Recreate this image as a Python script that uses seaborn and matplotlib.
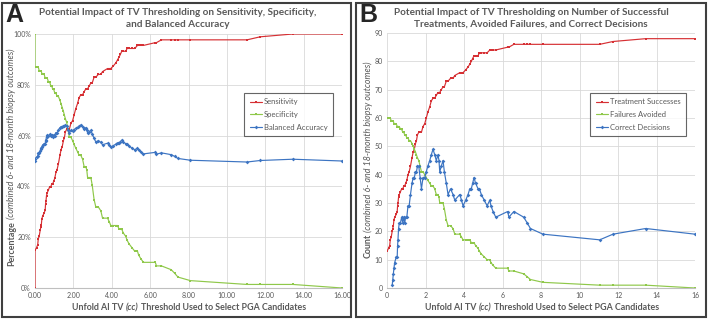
import matplotlib
matplotlib.use("Agg")
import matplotlib.pyplot as plt
import matplotlib.transforms as mtransforms
from matplotlib.patches import Rectangle
import seaborn as sns

# thresholds (cc) shared by both panels
thresholds = [0.00, 0.08, 0.14, 0.17, 0.22, 0.27, 0.30, 0.33, 0.36, 0.40,
              0.48, 0.53, 0.55, 0.57, 0.60, 0.64, 0.70, 0.76, 0.82, 0.87,
              0.92, 0.97, 1.03, 1.09, 1.15, 1.22, 1.30, 1.36, 1.42, 1.48,
              1.53, 1.58, 1.65, 1.72, 1.79, 1.87, 1.96, 2.04, 2.12, 2.22,
              2.30, 2.39, 2.48, 2.56, 2.65, 2.70, 2.74, 2.82, 2.91, 2.98,
              3.08, 3.17, 3.30, 3.43, 3.52, 3.78, 3.87, 3.95, 4.09, 4.21,
              4.30, 4.38, 4.45, 4.52, 4.60, 4.73, 4.80, 4.90, 5.05, 5.20,
              5.34, 5.40, 5.51, 5.65, 6.27, 6.33, 6.59, 7.10, 7.28, 7.45,
              8.10, 11.05, 11.74, 13.44, 16.00]

# panel B counts
successes = [13, 14, 15, 17, 18, 20, 21, 22, 24, 25,
             26, 27, 29, 30, 32, 33, 34, 35, 35, 36,
             36, 37, 38, 40, 41, 43, 46, 48, 49, 51,
             52, 54, 55, 55, 55, 57, 58, 60, 62, 64,
             66, 67, 67, 68, 69, 69, 69, 70, 71, 71,
             73, 73, 74, 74, 75, 76, 76, 76, 77, 78,
             79, 80, 81, 82, 82, 82, 83, 83, 83, 83,
             84, 84, 84, 84, 85, 85, 86, 86, 86, 86,
             86, 86, 87, 88, 88]
failures_avoided = [60, 60, 60, 60, 59, 59, 59, 59, 58, 58,
                    58, 57, 57, 57, 57, 57, 56, 56, 55, 55,
                    54, 54, 53, 53, 52, 52, 51, 50, 49, 48,
                    47, 46, 45, 43, 41, 41, 40, 39, 38, 37,
                    36, 36, 35, 33, 33, 32, 30, 30, 30, 28,
                    24, 22, 22, 21, 19, 19, 18, 17, 17, 17,
                    17, 16, 16, 16, 15, 14, 13, 12, 11, 10,
                    10, 9, 8, 7, 7, 6, 6, 5, 4, 3,
                    2, 1, 1, 1, 0]
decision_thresholds = thresholds[5:]
correct_decisions = [1, 3, 5, 7, 9,
                     11, 11, 15, 17, 21, 23, 23, 25, 23, 25,
                     23, 25, 25, 29, 29, 33, 37, 39, 39, 41,
                     41, 43, 43, 39, 35, 39, 39, 41, 43, 45,
                     47, 49, 47, 45, 47, 45, 41, 43, 45, 41,
                     37, 33, 35, 33, 31, 33, 31, 29, 31, 33,
                     35, 35, 37, 39, 37, 35, 35, 33, 31, 29,
                     31, 29, 27, 25, 27, 25, 27, 25, 23, 21,
                     19, 17, 19, 21, 19]

# panel A percentages (extra starting point at 0)
thresholds_a = [0.00] + thresholds
sensitivity = [0.0, 14.8, 15.9, 17.0, 19.3, 20.5, 22.7, 23.9, 25.0, 27.3, 28.4,
               29.5, 30.7, 33.0, 34.1, 36.4, 37.5, 38.6, 39.8, 39.8, 40.9,
               40.9, 42.0, 43.2, 45.5, 46.6, 48.9, 52.3, 54.5, 55.7, 58.0,
               59.1, 61.4, 62.5, 62.5, 62.5, 64.8, 65.9, 68.2, 70.5, 72.7,
               75.0, 76.1, 76.1, 77.3, 78.4, 78.4, 78.4, 79.5, 80.7, 80.7,
               83.0, 83.0, 84.1, 84.1, 85.2, 86.4, 86.4, 86.4, 87.5, 88.6,
               89.8, 90.9, 92.0, 93.2, 93.2, 93.2, 94.3, 94.3, 94.3, 94.3,
               95.5, 95.5, 95.5, 95.5, 96.6, 96.6, 97.7, 97.7, 97.7, 97.7,
               97.7, 97.7, 98.9, 100.0, 100.0]
specificity = [100.0, 87.0, 87.0, 87.0, 87.0, 85.5, 85.5, 85.5, 85.5, 84.1, 84.1,
               84.1, 82.6, 82.6, 82.6, 82.6, 82.6, 81.2, 81.2, 79.7, 79.7,
               78.3, 78.3, 76.8, 76.8, 75.4, 75.4, 73.9, 72.5, 71.0, 69.6,
               68.1, 66.7, 65.2, 62.3, 59.4, 59.4, 58.0, 56.5, 55.1, 53.6,
               52.2, 52.2, 50.7, 47.8, 47.8, 46.4, 43.5, 43.5, 43.5, 40.6,
               34.8, 31.9, 31.9, 30.4, 27.5, 27.5, 26.1, 24.6, 24.6, 24.6,
               24.6, 23.2, 23.2, 23.2, 21.7, 20.3, 18.8, 17.4, 15.9, 14.5,
               14.5, 13.0, 11.6, 10.1, 10.1, 8.7, 8.7, 7.2, 5.8, 4.3,
               2.9, 1.4, 1.4, 1.4, 0.0]
balanced_accuracy = [50.0, 50.9, 51.5, 52.0, 53.2, 53.0, 54.1, 54.7, 55.3, 55.7, 56.3,
                     56.8, 56.7, 57.8, 58.4, 59.5, 60.1, 59.9, 60.5, 59.8, 60.3,
                     59.6, 60.2, 60.0, 61.2, 61.0, 62.2, 63.1, 63.5, 63.4, 63.8,
                     63.6, 64.1, 63.9, 62.4, 61.0, 62.1, 62.0, 62.4, 62.8, 63.2,
                     63.6, 64.2, 63.4, 62.6, 63.1, 62.4, 61.0, 61.5, 62.1, 60.7,
                     58.9, 57.5, 58.0, 57.3, 56.4, 57.0, 56.3, 55.5, 56.1, 56.6,
                     57.2, 57.1, 57.6, 58.2, 57.5, 56.8, 56.6, 55.9, 55.1, 54.4,
                     55.0, 54.3, 53.6, 52.8, 53.4, 52.7, 53.2, 52.5, 51.8, 51.0,
                     50.3, 49.6, 50.2, 50.7, 50.0]

RED = "#D63034"
GREEN = "#8FC84A"
BLUE = "#3C74C2"
GRAY = "#595959"

sns.set_style("white")
plt.rcParams["font.family"] = ["Lato", "DejaVu Sans"]

fig = plt.figure(figsize=(7.09, 3.2), dpi=100)
ax_a = fig.add_axes([35 / 709, 32 / 320, 307 / 709, 254 / 320])
ax_b = fig.add_axes([387 / 709, 32 / 320, 308 / 709, 255 / 320])

line_kw = dict(estimator=None, sort=False, markersize=1.9, markeredgewidth=0, linewidth=0.85)

sns.lineplot(x=thresholds_a, y=sensitivity, ax=ax_a, color=RED, marker="s", label="Sensitivity", **line_kw)
sns.lineplot(x=thresholds_a, y=specificity, ax=ax_a, color=GREEN, marker="s", label="Specificity", **line_kw)
sns.lineplot(x=thresholds_a, y=balanced_accuracy, ax=ax_a, color=BLUE, marker="D", label="Balanced Accuracy", **line_kw)

sns.lineplot(x=thresholds, y=successes, ax=ax_b, color=RED, marker="s", label="Treatment Successes", **line_kw)
sns.lineplot(x=thresholds, y=failures_avoided, ax=ax_b, color=GREEN, marker="s", label="Failures Avoided", **line_kw)
sns.lineplot(x=decision_thresholds, y=correct_decisions, ax=ax_b, color=BLUE, marker="D", label="Correct Decisions", **line_kw)

ax_a.set_xlim(0, 16)
ax_a.set_ylim(0, 100)
ax_a.set_xticks(range(0, 17, 2), [f"{v:.2f}" for v in range(0, 17, 2)])
ax_a.set_yticks(range(0, 101, 20), [f"{v}%" for v in range(0, 101, 20)])
ax_b.set_xlim(0, 16)
ax_b.set_ylim(0, 90)
ax_b.set_xticks(range(0, 17, 2), [str(v) for v in range(0, 17, 2)])
ax_b.set_yticks(range(0, 91, 10), [str(v) for v in range(0, 91, 10)])

for ax, anchor in [(ax_a, (0.971, 0.768)), (ax_b, (0.971, 0.765))]:
    ax.set_xlabel("")
    ax.set_ylabel("")
    ax.tick_params(labelsize=5, colors=GRAY, length=0, pad=3)
    ax.grid(True, color="#d9d9d9", linewidth=0.6)
    ax.set_axisbelow(True)
    for s in ["top", "right", "left"]:
        ax.spines[s].set_visible(False)
    ax.spines["bottom"].set_color("#bfbfbf")
    ax.spines["bottom"].set_linewidth(0.8)
    leg = ax.legend(loc="upper right", bbox_to_anchor=anchor, fontsize=5.5, frameon=True,
                    fancybox=False, edgecolor="#404040", handlelength=1.6, borderpad=0.7,
                    labelspacing=0.75, handletextpad=0.3, borderaxespad=0)
    leg.get_frame().set_linewidth(0.8)
    for t in leg.get_texts():
        t.set_color(GRAY)

# titles and panel letters
fig.text(178 / 709, 1 - 18.5 / 320,
         "Potential Impact of TV Thresholding on Sensitivity, Specificity,\nand Balanced Accuracy",
         ha="center", va="center", fontsize=7.2, weight="bold", color=GRAY, linespacing=1.35)
fig.text(531 / 709, 1 - 18.5 / 320,
         "Potential Impact of TV Thresholding on Number of Successful\nTreatments, Avoided Failures, and Correct Decisions",
         ha="center", va="center", fontsize=7.2, weight="bold", color=GRAY, linespacing=1.35)
fig.text(5 / 709, 1 - 15 / 320, "A", fontsize=18, weight="bold", va="center", family="Liberation Sans")
fig.text(359 / 709, 1 - 15 / 320, "B", fontsize=18, weight="bold", va="center", family="Liberation Sans")

# panel frames
fig.add_artist(Rectangle((2 / 709, 3 / 320), 349 / 709, 314 / 320, transform=fig.transFigure,
                         fill=False, edgecolor="#3f3f3f", linewidth=1.5))
fig.add_artist(Rectangle((356 / 709, 3 / 320), 350 / 709, 314 / 320, transform=fig.transFigure,
                         fill=False, edgecolor="#3f3f3f", linewidth=1.5))


def rich_label(cx, cy, parts, rotation=0, size=6.4):
    # lay out mixed bold / italic pieces end to end, centred on (cx, cy) in pixels
    renderer = fig.canvas.get_renderer()
    ident = mtransforms.IdentityTransform()
    kw = dict(fontsize=size, color=GRAY, rotation=rotation, rotation_mode="anchor",
              ha="left", va="baseline", transform=ident)
    p1 = fig.text(0, 0, "x x", fontweight="bold", **kw)
    p2 = fig.text(0, 0, "xx", fontweight="bold", **kw)
    e1, e2 = p1.get_window_extent(renderer), p2.get_window_extent(renderer)
    gap = (e1.height - e2.height) if rotation else (e1.width - e2.width)
    p1.remove()
    p2.remove()
    pieces, lengths = [], []
    for s, style, weight in parts:
        t = fig.text(0, 0, s, fontstyle=style, fontweight=weight, **kw)
        ext = t.get_window_extent(renderer)
        pieces.append(t)
        lengths.append(ext.height if rotation else ext.width)
    total = sum(lengths) + gap * (len(parts) - 1)
    pos = (cy if rotation else cx) - total / 2
    for t, L in zip(pieces, lengths):
        t.set_position((cx, pos) if rotation else (pos, cy))
        pos += L + gap


xlabel_parts = [("Unfold AI TV", "normal", "bold"), ("(cc)", "italic", "bold"),
                ("Threshold Used to Select PGA Candidates", "normal", "bold")]
rich_label(189, 10, xlabel_parts)
rich_label(542, 10, xlabel_parts)
rich_label(14, 163, [("Percentage", "normal", "bold"),
                     ("(combined 6- and 18-month biopsy outcomes)", "italic", "normal")], rotation=90)
rich_label(371, 160, [("Count", "normal", "bold"),
                      ("(combined 6- and 18-month biopsy outcomes)", "italic", "normal")], rotation=90)

fig.savefig("out.png", dpi=100)
